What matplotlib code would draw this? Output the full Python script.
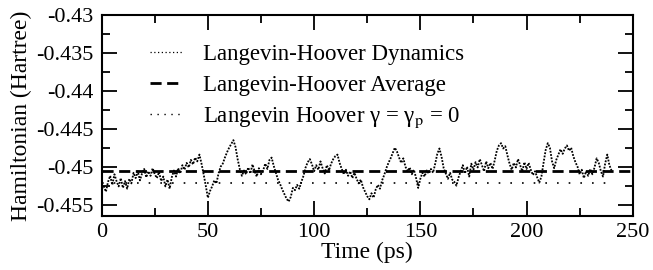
import matplotlib
matplotlib.use("Agg")
import matplotlib.pyplot as plt
import numpy as np
from matplotlib.lines import Line2D

plt.rcParams["font.family"] = ["Liberation Serif", "DejaVu Serif"]
plt.rcParams["mathtext.fontset"] = "stix"

# Langevin-Hoover Hamiltonian, milli-Hartree, one sample per ps (t = 0..240)
time_ps = np.arange(0, 241)
ham_mha = [
    -453.0, -452.6, -453.3, -452.0, -451.2, -452.4, -451.0, -451.9, -452.6, -451.5,
    -452.8, -451.9, -452.9, -451.6, -452.2, -450.8, -451.5, -450.6, -451.8, -450.9,
    -450.3, -451.4, -450.6, -451.2, -450.2, -451.0, -451.5, -450.7, -451.9, -451.3,
    -452.6, -451.7, -452.9, -451.4, -450.5, -451.3, -450.2, -450.9, -449.8, -450.4,
    -449.5, -450.1, -449.1, -449.7, -448.8, -449.3, -448.4, -449.6, -451.0, -452.5,
    -454.1, -453.2, -452.6, -451.8, -452.2, -450.9, -450.0, -449.6, -448.8, -448.1,
    -447.5, -447.0, -446.5, -447.4, -449.0, -450.3, -451.2, -450.5, -451.0, -450.1,
    -450.9, -449.7, -450.6, -451.3, -450.2, -451.0, -450.5, -449.6, -450.3, -449.1,
    -448.8, -449.9, -450.8, -451.7, -452.3, -453.0, -453.6, -454.2, -454.6, -454.0,
    -452.8, -453.1, -452.4, -452.9, -452.0, -451.2, -450.1, -449.4, -449.0, -449.7,
    -450.6, -449.8, -450.4, -449.3, -450.2, -450.9, -449.8, -450.5, -449.6, -449.0,
    -448.6, -448.4, -449.5, -450.3, -451.0, -450.4, -451.2, -450.6, -451.5, -450.8,
    -451.6, -452.2, -451.7, -452.7, -453.3, -453.9, -454.3, -453.5, -454.1, -453.0,
    -452.4, -452.9, -451.8, -451.1, -450.2, -449.5, -448.9, -448.2, -447.5, -448.0,
    -448.8, -449.5, -448.9, -450.0, -450.6, -450.1, -451.0, -450.4, -451.5, -452.8,
    -451.6, -450.8, -451.3, -450.5, -450.9, -450.3, -450.8, -449.6, -448.3, -447.6,
    -448.7, -450.2, -450.9, -451.6, -450.8, -451.7, -452.0, -452.5, -451.4, -450.6,
    -449.8, -450.9, -450.0, -451.3, -449.6, -450.4, -449.4, -450.1, -449.0, -449.8,
    -450.6, -449.3, -450.2, -449.5, -450.3, -449.2, -447.9, -447.2, -446.9, -447.6,
    -447.3, -448.5, -449.6, -450.4, -449.5, -450.1, -449.0, -449.8, -450.6, -449.4,
    -450.3, -449.5, -450.4, -451.1, -450.6, -451.4, -452.1, -451.3, -449.5, -447.8,
    -446.9, -447.5, -449.3, -450.2, -449.1, -448.4, -447.7, -448.3, -447.6, -447.2,
    -447.9, -447.5, -448.6, -449.4, -450.0, -451.0, -450.4, -451.5, -450.6, -451.2,
    -450.3, -451.0, -450.1, -448.9, -449.5, -450.6, -451.3, -449.6, -448.4, -449.8,
    -450.5,
]
avg_x = [0, 250]
avg_ham = -0.45063
zero_gamma_x = [0, 240]
zero_gamma_ham = -0.45215

labels = [
    "Langevin-Hoover Dynamics",
    "Langevin-Hoover Average",
    r"Langevin Hoover γ = γ$_\mathrm{p}$ = 0",
]

ham = np.array(ham_mha) / 1000.0

fig = plt.figure(figsize=(6.53, 2.70), dpi=100)
ax = fig.add_axes([0.1557, 0.2, 0.8133, 0.7444])

ax.plot(time_ps, ham, color="black", lw=1.3, linestyle=(0, (1, 0.8)))
ax.plot(avg_x, [avg_ham] * 2, color="black", lw=2.0, linestyle=(0, (4, 2)))
ax.plot(zero_gamma_x, [zero_gamma_ham] * 2, color="black", lw=1.2, linestyle=(0, (1, 6)))

ax.set_xlim(0, 250)
ax.set_ylim(-0.4565, -0.43)
ax.set_xticks([0, 50, 100, 150, 200, 250])
ax.set_xticks([25, 75, 125, 175, 225], minor=True)
ax.set_yticks([-0.455, -0.45, -0.445, -0.44, -0.435, -0.43])
ax.set_yticklabels(["-0.455", "-0.45", "-0.445", "-0.44", "-0.435", "-0.43"])
ax.set_yticks(np.arange(-0.4525, -0.43, 0.005), minor=True)
ax.tick_params(which="both", direction="in", top=True, right=True, labelsize=16, width=1.3)
ax.tick_params(which="major", length=11, pad=6)
ax.tick_params(axis="x", which="major", pad=5)
ax.tick_params(which="minor", length=6)
for sp in ax.spines.values():
    sp.set_linewidth(1.5)

ax.set_xlabel("Time (ps)", fontsize=17, labelpad=0)
ax.set_ylabel("Hamiltonian (Hartree)", fontsize=17, labelpad=3)

handles = [
    Line2D([0], [0], color="black", lw=0.9, linestyle=(0, (1, 2))),
    Line2D([0], [0], color="black", lw=2.0, linestyle=(0, (4, 2))),
    Line2D([0], [0], color="black", lw=1.0, linestyle=(0, (1, 4))),
]
ax.legend(handles, labels, loc="upper left", bbox_to_anchor=(0.091, 0.855), frameon=False,
          fontsize=16.5, handlelength=1.4, handletextpad=0.9, labelspacing=0.42,
          borderpad=0, borderaxespad=0)

fig.savefig("out.png", dpi=100)
